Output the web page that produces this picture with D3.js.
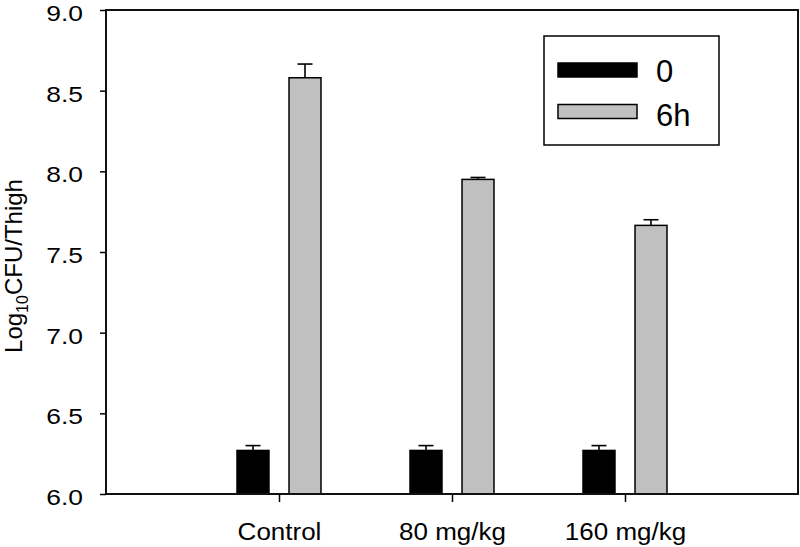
<!DOCTYPE html>
<html><head><meta charset="utf-8">
<script src="https://cdn.jsdelivr.net/npm/d3@7"></script>
<style>body{margin:0;background:#fff}svg{display:block}text{font-family:"Liberation Sans",Arial,sans-serif;fill:#000}</style>
</head><body><svg id="c" width="800" height="547"></svg>
<script>
const categories = ["Control", "80 mg/kg", "160 mg/kg"];
const seriesNames = ["0", "6h"];
const values0 = [6.27, 6.27, 6.27];
const errors0 = [0.03, 0.03, 0.03];
const values6h = [8.58, 7.95, 7.665];
const errors6h = [0.085, 0.012, 0.035];
const yTicks = [6.0, 6.5, 7.0, 7.5, 8.0, 8.5, 9.0];
const colors = ["#000000", "#c0c0c0"];

const svg = d3.select("#c");
const L = 106, R = 798, T = 10, B = 494;
const x = d3.scaleLinear().domain([0, 4]).range([L, R]);
const y = d3.scaleLinear().domain([6, 9]).range([B, T]);
const inner = d3.scaleBand().domain(seriesNames).range([-42, 42]).paddingInner(0.385);

const data = [];
categories.forEach((c, i) => {
  data.push({cat: i + 1, s: "0", v: values0[i], e: errors0[i], col: colors[0]});
  data.push({cat: i + 1, s: "6h", v: values6h[i], e: errors6h[i], col: colors[1]});
});

// error bars (upper only)
const eb = svg.append("g").attr("stroke", "#000").attr("stroke-width", 1.6);
data.forEach(d => {
  const cx = x(d.cat) + inner(d.s) + inner.bandwidth() / 2;
  eb.append("line").attr("x1", cx).attr("x2", cx).attr("y1", y(d.v)).attr("y2", y(d.v + d.e));
  eb.append("line").attr("x1", cx - 7.5).attr("x2", cx + 7.5).attr("y1", y(d.v + d.e)).attr("y2", y(d.v + d.e));
});

svg.append("g").selectAll("rect").data(data).join("rect")
  .attr("x", d => x(d.cat) + inner(d.s))
  .attr("width", inner.bandwidth())
  .attr("y", d => y(d.v))
  .attr("height", d => y(6) - y(d.v))
  .attr("fill", d => d.col)
  .attr("stroke", "#000").attr("stroke-width", 1.5);

// frame
svg.append("rect").attr("x", L).attr("y", T).attr("width", R - L).attr("height", B - T)
  .attr("fill", "none").attr("stroke", "#111").attr("stroke-width", 2);

// y axis
const ya = svg.append("g").attr("transform", `translate(${L},0)`)
  .call(d3.axisLeft(y).tickValues(yTicks).tickFormat(d3.format(".1f")).tickSize(6).tickPadding(13.2));
ya.select(".domain").remove();
ya.selectAll("line").attr("stroke", "#000").attr("stroke-width", 1.5);
ya.selectAll("text").attr("font-size", 22).attr("font-family", "Liberation Sans, Arial, sans-serif")
  .attr("dy", "0.48em")
  .attr("transform", "scale(1.2,1)");

// x axis
const xa = svg.append("g").attr("transform", `translate(0,${B})`)
  .call(d3.axisBottom(x).tickValues([1, 2, 3]).tickFormat(d => categories[d - 1]).tickSize(8).tickPadding(21.7));
xa.select(".domain").remove();
xa.selectAll("line").attr("stroke", "#000").attr("stroke-width", 1.5);
xa.selectAll("text").attr("font-size", 23).attr("font-family", "Liberation Sans, Arial, sans-serif")
  .attr("transform", "scale(1.13,1)");

// y label
const yl = svg.append("text").attr("transform", "translate(22,266) rotate(-90)")
  .attr("text-anchor", "middle").attr("font-size", 24);
yl.append("tspan").text("Log");
yl.append("tspan").attr("font-size", 16).attr("dy", 6).text("10");
yl.append("tspan").attr("dy", -6).text("CFU/Thigh");

// legend
const lg = svg.append("g");
lg.append("rect").attr("x", 544).attr("y", 36).attr("width", 175).attr("height", 109)
  .attr("fill", "#fff").attr("stroke", "#000").attr("stroke-width", 1.5);
seriesNames.forEach((s, i) => {
  lg.append("rect").attr("x", 558).attr("y", 63 + i * 41.5).attr("width", 79).attr("height", 14)
    .attr("fill", colors[i]).attr("stroke", "#000").attr("stroke-width", 1.5);
  lg.append("text").attr("x", 656).attr("y", 82 + i * 44).attr("font-size", 31).text(s);
});
</script></body></html>
